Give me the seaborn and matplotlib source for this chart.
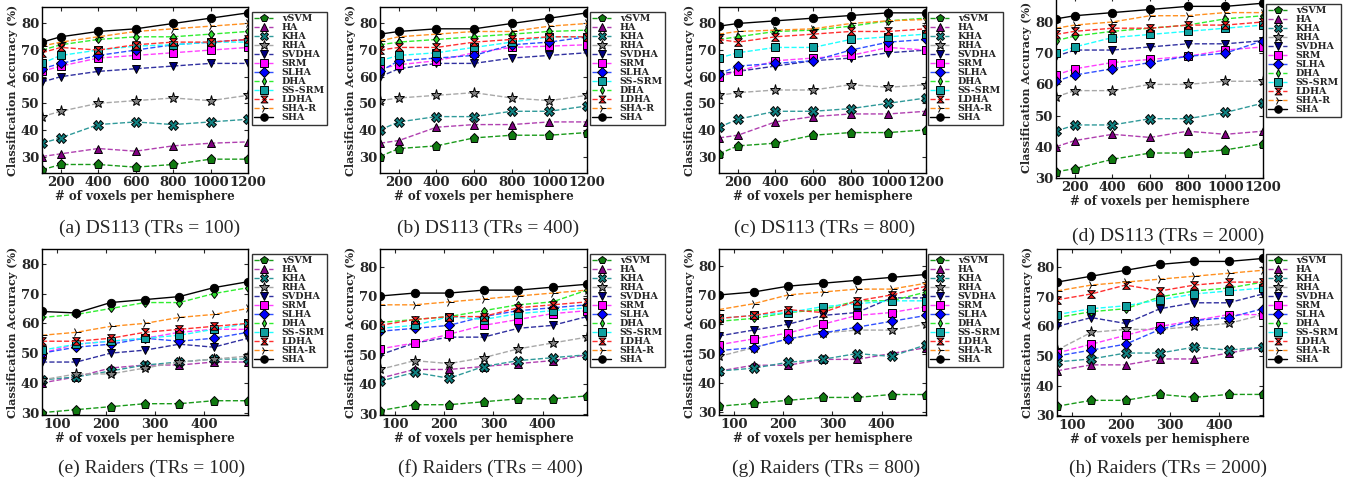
import numpy as np
import pandas as pd
import matplotlib
matplotlib.use("Agg")
import matplotlib.pyplot as plt
from matplotlib.path import Path
import seaborn as sns

# ---------------- data ----------------
methods = ["vSVM", "HA", "KHA", "RHA", "SVDHA", "SRM", "SLHA", "DHA",
           "SS-SRM", "LDHA", "SHA-R", "SHA"]
x_ds113 = [100, 200, 400, 600, 800, 1000, 1200]
x_raiders = [70, 140, 210, 280, 350, 420, 490]
xticks_ds113 = [200, 400, 600, 800, 1000, 1200]
xticks_raiders = [100, 200, 300, 400]
yticks = [30, 40, 50, 60, 70, 80]

captions = ["(a) DS113 (TRs = 100)", "(b) DS113 (TRs = 400)",
            "(c) DS113 (TRs = 800)", "(d) DS113 (TRs = 2000)",
            "(e) Raiders (TRs = 100)", "(f) Raiders (TRs = 400)",
            "(g) Raiders (TRs = 800)", "(h) Raiders (TRs = 2000)"]

acc_a = {
    "vSVM": [25, 27, 27, 26, 27, 29, 29],
    "HA": [30, 31, 33, 32, 34, 35, 35.5],
    "KHA": [35, 37, 42, 43, 42, 43, 44],
    "RHA": [45, 47, 50, 51, 52, 51, 53],
    "SVDHA": [58, 60, 62, 63, 64, 65, 65],
    "SRM": [62, 64, 67, 68, 69, 70, 71],
    "SLHA": [63, 65, 68, 70, 72, 73, 74],
    "DHA": [70, 72, 74, 75, 75, 76, 77],
    "SS-SRM": [65, 68, 70, 71.5, 72, 73, 73],
    "LDHA": [69, 71, 70, 72, 73, 73, 74],
    "SHA-R": [71.5, 73, 75, 77, 78, 79, 80],
    "SHA": [73, 75, 77, 78, 80, 82, 84],
}
acc_b = {
    "vSVM": [30, 33, 34, 37, 38, 38, 39],
    "HA": [35, 36, 41, 42, 42, 43, 43],
    "KHA": [40, 43, 45, 45, 47, 47, 49],
    "RHA": [51, 52, 53, 54, 52, 51, 53],
    "SVDHA": [60, 63, 65, 65, 67, 68, 69],
    "SRM": [63, 64.5, 66, 69, 71, 71.5, 72],
    "SLHA": [62, 66, 67, 68, 72, 73, 75],
    "DHA": [72, 73, 74, 75, 76, 77, 77.5],
    "SS-SRM": [66, 68, 69, 71, 73, 75, 75],
    "LDHA": [70, 71, 71, 73, 74, 75, 75],
    "SHA-R": [73.5, 75, 76, 77, 77, 79, 80],
    "SHA": [76, 77, 78, 78, 80, 82, 84],
}
acc_c = {
    "vSVM": [31, 34, 35, 38, 39, 39, 40],
    "HA": [37, 38, 43, 45, 46, 46, 47],
    "KHA": [41, 44, 47, 47, 48, 50, 52],
    "RHA": [53, 54, 55, 55, 57, 56, 57],
    "SVDHA": [61, 62, 64, 66, 67, 69, 70],
    "SRM": [60, 62, 66, 67, 68, 71, 70],
    "SLHA": [61, 64, 65, 66, 70, 73, 74],
    "DHA": [74, 75, 77, 77.5, 79, 81, 82],
    "SS-SRM": [67, 69, 71, 71, 74, 75, 76],
    "LDHA": [74, 73, 75, 76, 77, 77, 78],
    "SHA-R": [76, 77, 77.5, 78, 80, 81, 81.5],
    "SHA": [79, 80, 81, 82, 83, 84, 84],
}
acc_d = {
    "vSVM": [32, 33, 36, 38, 38, 39, 41],
    "HA": [40, 42, 44, 43, 45, 44, 45],
    "KHA": [45, 47, 47, 49, 49, 51, 54],
    "RHA": [56, 58, 58, 60, 60, 61, 61],
    "SVDHA": [69, 71, 71, 72, 73, 73, 74],
    "SRM": [63, 65, 67, 68, 69, 71, 72],
    "SLHA": [61, 63, 65, 67, 69, 70, 74],
    "DHA": [74, 75.5, 77, 78, 79, 81, 82],
    "SS-SRM": [70, 72, 75, 76, 77, 78, 79],
    "LDHA": [76, 77, 78, 78, 79, 79, 80],
    "SHA-R": [78, 79, 80, 82, 82, 83, 83],
    "SHA": [81, 82, 83, 84, 85, 85, 86],
}
acc_e = {
    "vSVM": [30, 31, 32, 33, 33, 34, 34],
    "HA": [40, 42, 45, 46, 46, 47, 47],
    "KHA": [41, 42, 44, 46, 47, 48, 48],
    "RHA": [41, 43, 43, 45, 47, 48, 49],
    "SVDHA": [47, 47, 50, 51, 53, 52, 55],
    "SRM": [50, 53, 54, 55, 57, 58, 58],
    "SLHA": [50, 52, 53, 55, 54, 55, 57],
    "DHA": [62, 63, 65, 67, 67, 70, 72],
    "SS-SRM": [51, 53, 54, 55, 56, 58, 60],
    "LDHA": [54, 54, 55, 57, 58, 59, 60],
    "SHA-R": [56, 57, 59, 60, 62, 63, 65],
    "SHA": [64, 63.5, 67, 68, 69, 72, 74],
}
acc_f = {
    "vSVM": [31, 33, 33, 34, 35, 35, 36],
    "HA": [42, 45, 45, 46, 47, 48, 50],
    "KHA": [41, 44, 42, 46, 48, 49, 50],
    "RHA": [45, 48, 47, 49, 52, 54, 56],
    "SVDHA": [50, 54, 56, 56, 59, 60, 63],
    "SRM": [52, 54, 57, 60, 62, 64, 65],
    "SLHA": [58, 59, 60, 63, 65, 66, 67],
    "DHA": [61, 62, 63, 65, 67, 68, 72],
    "SS-SRM": [59, 60, 63, 62, 64, 65, 66],
    "LDHA": [60, 62, 63, 63, 66, 67, 68],
    "SHA-R": [67, 67, 68, 69, 70, 71, 72],
    "SHA": [70, 71, 71, 72, 72, 73, 74],
}
acc_g = {
    "vSVM": [32, 33, 34, 35, 35, 36, 36],
    "HA": [44, 46, 46, 48, 48, 50, 52],
    "KHA": [44, 45, 47, 48, 50, 49, 53],
    "RHA": [49, 52, 55, 57, 58, 58, 60],
    "SVDHA": [56, 58, 60, 63, 64, 69, 69],
    "SRM": [53, 55, 57, 60, 63, 64, 66],
    "SLHA": [51, 52, 55, 57, 59, 61, 63],
    "DHA": [61, 62, 64, 65, 68, 68, 71],
    "SS-SRM": [62, 63, 64, 66, 67, 68, 68],
    "LDHA": [62, 63, 65, 64, 68, 70, 73],
    "SHA-R": [65, 67, 70, 71, 72, 72, 74],
    "SHA": [70, 71, 73, 74, 75, 76, 77],
}
acc_h = {
    "vSVM": [33, 35, 35, 37, 36, 37, 37],
    "HA": [45, 47, 47, 49, 49, 51, 53],
    "KHA": [48, 49, 51, 51, 53, 52, 53],
    "RHA": [52, 58, 59, 59, 60, 61, 64],
    "SVDHA": [60, 63, 61, 66, 68, 68, 71],
    "SRM": [51, 54, 57, 60, 62, 64, 64],
    "SLHA": [50, 52, 54, 59, 62, 63, 66],
    "DHA": [63, 65, 66, 70, 72, 73, 75],
    "SS-SRM": [64, 66, 67, 69, 71, 72, 73],
    "LDHA": [69, 71, 74, 72, 74, 75, 75],
    "SHA-R": [72, 74, 75, 76, 77, 78, 79],
    "SHA": [75, 77, 79, 81, 82, 82, 83],
}

order_default = ["vSVM", "HA", "KHA", "RHA", "SVDHA", "SRM", "SLHA", "DHA",
                 "SS-SRM", "LDHA", "SHA-R", "SHA"]
order_b = ["vSVM", "HA", "KHA", "RHA", "SVDHA", "SRM", "SLHA", "SS-SRM",
           "DHA", "LDHA", "SHA-R", "SHA"]

# ---------------- styles ----------------
hourglass = Path([(-1, 1), (1, 1), (-1, -1), (1, -1), (-1, 1)],
                 [Path.MOVETO, Path.LINETO, Path.LINETO, Path.LINETO, Path.CLOSEPOLY])
style = {
    "vSVM":   dict(color="#1a9a1a", marker="p", mfc="#107a10", mec="k", ls="--", ms=6.5),
    "HA":     dict(color="#b040b0", marker="^", mfc="#800080", mec="k", ls="--", ms=6),
    "KHA":    dict(color="#309a9a", marker="X", mfc="#108080", mec="k", ls="--", ms=6.5),
    "RHA":    dict(color="#a8a8a8", marker="*", mfc="#808080", mec="k", ls="--", ms=8),
    "SVDHA":  dict(color="#3030a0", marker="v", mfc="#000080", mec="k", ls="--", ms=6),
    "SRM":    dict(color="#ff40ff", marker="s", mfc="#ff00ff", mec="k", ls="--", ms=6),
    "SLHA":   dict(color="#3050ff", marker="D", mfc="#0000ff", mec="k", ls="--", ms=5.5),
    "DHA":    dict(color="#30ee30", marker="d", mfc="#30dd30", mec="k", ls="--", ms=4.5),
    "SS-SRM": dict(color="#20ffff", marker="s", mfc="#10a0a0", mec="k", ls="--", ms=6),
    "LDHA":   dict(color="#ff3030", marker=hourglass, mfc="#ff2020", mec="k", ls="--", ms=5.5),
    "SHA-R":  dict(color="#ff9020", marker="4", mfc="k", mec="k", ls="--", ms=7),
    "SHA":    dict(color="#000000", marker="o", mfc="k", mec="k", ls="-", ms=6),
}

sns.set_style("ticks")
plt.rcParams["font.family"] = ["DejaVu Serif"]
plt.rcParams["font.weight"] = "bold"

W, H = 1352, 487
fig = plt.figure(figsize=(W / 100, H / 100), dpi=100)

def px_axes(l, t, r, b):
    return fig.add_axes([l / W, 1 - b / H, (r - l) / W, (b - t) / H])

panels = [
    dict(acc=acc_a, x=x_ds113, box=(42, 7, 248, 173), ylim=(23.8, 86.2), leg=(252, 12), cap=(150, 228), order=order_default),
    dict(acc=acc_b, x=x_ds113, box=(380, 7, 587, 173), ylim=(23.8, 86.2), leg=(590, 12), cap=(488, 228), order=order_b),
    dict(acc=acc_c, x=x_ds113, box=(719, 7, 926, 173), ylim=(23.8, 86.2), leg=(928, 12), cap=(825, 228), order=order_default),
    dict(acc=acc_d, x=x_ds113, box=(1056, -3, 1263, 178), ylim=(30, 88), leg=(1266, 4), cap=(1168, 236), order=order_default),
    dict(acc=acc_e, x=x_raiders, box=(42, 249, 248, 415), ylim=(29.2, 85), leg=(252, 254), cap=(152, 468), order=order_default),
    dict(acc=acc_f, x=x_raiders, box=(380, 249, 587, 415), ylim=(29.5, 86), leg=(590, 254), cap=(490, 468), order=order_default),
    dict(acc=acc_g, x=x_raiders, box=(719, 249, 926, 415), ylim=(29, 85.7), leg=(928, 254), cap=(826, 468), order=order_default),
    dict(acc=acc_h, x=x_raiders, box=(1057, 249, 1263, 416), ylim=(29.7, 86.2), leg=(1266, 254), cap=(1168, 468), order=order_default),
]

for i, p in enumerate(panels):
    ax = px_axes(*p["box"])
    handles = {}
    for m in methods:
        st = style[m]
        df = pd.DataFrame({"x": p["x"], "y": p["acc"][m]})
        sns.lineplot(data=df, x="x", y="y", ax=ax, color=st["color"], linestyle=st["ls"],
                     marker=st["marker"], markerfacecolor=st["mfc"], markeredgecolor=st["mec"],
                     markeredgewidth=0.7, markersize=st["ms"], linewidth=1.0, label=m)
        handles[m] = ax.get_lines()[-1]
    ds = p["x"] is x_ds113
    ax.set_xlim(p["x"][0], p["x"][-1])
    ax.set_xticks(xticks_ds113 if ds else xticks_raiders)
    ax.set_ylim(*p["ylim"])
    ax.set_yticks(yticks)
    ax.tick_params(direction="in", top=True, right=True, length=3, width=0.8,
                   labelsize=9.5, pad=2)
    for lab in ax.get_xticklabels() + ax.get_yticklabels():
        lab.set_fontweight("bold")
    for s in ax.spines.values():
        s.set_linewidth(1.0)
        s.set_color("k")
    ax.set_xlabel("# of voxels per hemisphere", fontsize=8.5, fontweight="bold", labelpad=1)
    ax.set_ylabel("Classification Accuracy (%)", fontsize=8, fontweight="bold", labelpad=2)
    lx, ly = p["leg"]
    leg = ax.legend([handles[m] for m in p["order"]], p["order"], loc="upper left",
                    bbox_to_anchor=(lx / W, 1 - ly / H), bbox_transform=fig.transFigure,
                    fontsize=6.8, labelspacing=0.0, handlelength=2.0, handletextpad=0.9,
                    borderpad=0.25, borderaxespad=0, frameon=True, fancybox=False,
                    markerscale=0.9)
    leg.get_frame().set_edgecolor("k")
    leg.get_frame().set_linewidth(1.0)
    for t in leg.get_texts():
        t.set_fontweight("bold")
    cx, cy = p["cap"]
    fig.text(cx / W, 1 - cy / H, captions[i], ha="center", va="center",
             fontsize=14, family="Liberation Serif", fontweight="normal")

fig.savefig("out.png", dpi=100)
